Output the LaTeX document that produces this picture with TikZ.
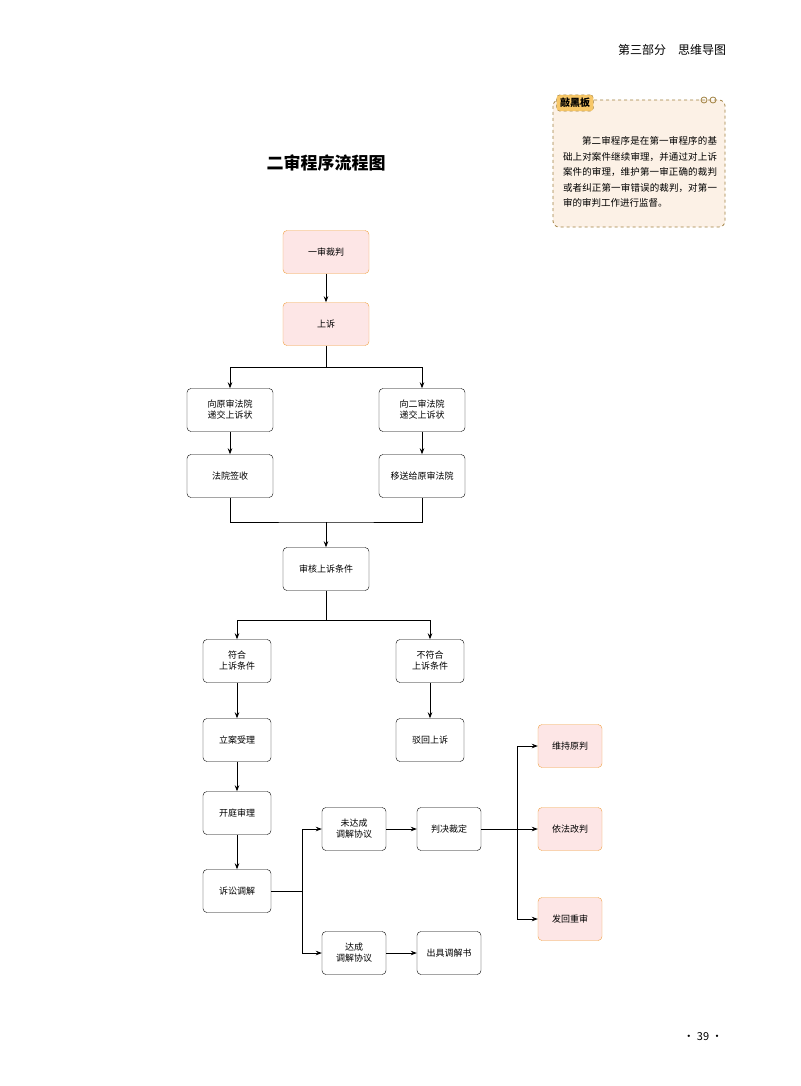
\documentclass[tikz,border=0pt]{standalone}
\usepackage{fontspec}
\newfontfamily\cjk{Noto Sans CJK SC}
\XeTeXlinebreaklocale "zh"
\XeTeXlinebreakskip = 0pt plus 1pt
\usetikzlibrary{arrows.meta, positioning}
\definecolor{pinkbg}{HTML}{FDE6E6}
\definecolor{orangeline}{HTML}{F0A040}
\definecolor{notebg}{HTML}{FCF1E6}
\definecolor{notedash}{HTML}{A08040}
\definecolor{tagbg}{HTML}{F7C768}

\begin{document}
\begin{tikzpicture}[x=1pt, y=-1pt,
  box/.style={draw=black, fill=white, rounded corners=4pt, minimum width=64pt,
              minimum height=43pt, font=\cjk\fontsize{9}{11}\selectfont, align=center},
  keybox/.style={box, draw=orangeline, fill=pinkbg},
  arr/.style={-{Stealth[length=6pt]}, thick},
  ln/.style={thick}
]
  \useasboundingbox (0,0) rectangle (800,1086);

  % Page header, title and page number
  \node[font=\cjk\fontsize{12}{14}\selectfont] (head) at (672,50) {第三部分\quad 思维导图};
  \node[font=\cjk\bfseries\fontsize{17}{20}\selectfont] (title) at (326,163) {二审程序流程图};
  \node[font=\cjk\fontsize{11}{13}\selectfont] (page) at (703,1037) {· 39 ·};

  % Note box
  \draw[notedash, dashed, thick, fill=notebg, rounded corners=6pt] (553,100) rectangle (725,227);
  \node[draw=notedash, dashed, fill=tagbg, rounded corners=3pt,
        font=\cjk\bfseries\fontsize{10}{12}\selectfont] (tag) at (575,103) {敲黑板};
  \draw[notedash, thick] (704,100) circle (3pt) (713,100) circle (3pt);
  \node[font=\cjk\fontsize{9.5}{15.5}\selectfont, align=justify, text width=154pt] (note) at (640,172)
    {\hspace*{2em}第二审程序是在第一审程序的基础上对案件继续审理，并通过对上诉案件的审理，维护第一审正确的裁判或者纠正第一审错误的裁判，对第一审的审判工作进行监督。};

  % Top chain
  \node[keybox, minimum width=86pt] (first) at (326,252) {一审裁判};
  \node[keybox, minimum width=86pt] (appeal) at (326,324) {上诉};
  \node[box, minimum width=86pt] (orig) at (230,410) {向原审法院\\递交上诉状};
  \node[box, minimum width=86pt] (second) at (422,410) {向二审法院\\递交上诉状};
  \node[box, minimum width=86pt] (sign) at (230,476) {法院签收};
  \node[box, minimum width=86pt] (send) at (422,476) {移送给原审法院};
  \node[box, minimum width=86pt] (check) at (326,569) {审核上诉条件};

  % Conditions
  \node[box, minimum width=68pt] (ok) at (237,661) {符合\\上诉条件};
  \node[box, minimum width=68pt] (notok) at (430,661) {不符合\\上诉条件};
  \node[box, minimum width=68pt] (accept) at (237,740) {立案受理};
  \node[box, minimum width=68pt] (reject) at (430,740) {驳回上诉};
  \node[box, minimum width=68pt] (trial) at (237,813) {开庭审理};
  \node[box, minimum width=68pt] (mediate) at (237,891) {诉讼调解};

  % Mediation results
  \node[box] (nodeal) at (354,829) {未达成\\调解协议};
  \node[box] (deal) at (354,953) {达成\\调解协议};
  \node[box] (judge) at (449,829) {判决裁定};
  \node[box] (paper) at (449,953) {出具调解书};
  \node[keybox] (keep) at (570,746) {维持原判};
  \node[keybox] (change) at (570,829) {依法改判};
  \node[keybox] (retry) at (570,919) {发回重审};

  \coordinate (split1) at (326,367);
  \coordinate (join1) at (326,522);
  \coordinate (split2) at (326,620);
  \coordinate (split3) at (302,891);
  \coordinate (split4) at (517,829);

  % Arrows
  \draw[arr] (first) -- (appeal);
  \draw[ln] (appeal) -- (split1);
  \draw[arr] (split1) -| (orig);
  \draw[arr] (split1) -| (second);
  \draw[arr] (orig) -- (sign);
  \draw[arr] (second) -- (send);
  \draw[ln] (sign.south) |- (join1) -| (send.south);
  \draw[arr] (join1) -- (check);
  \draw[ln] (check) -- (split2);
  \draw[arr] (split2) -| (ok);
  \draw[arr] (split2) -| (notok);
  \draw[arr] (ok) -- (accept);
  \draw[arr] (notok) -- (reject);
  \draw[arr] (accept) -- (trial);
  \draw[arr] (trial) -- (mediate);
  \draw[ln] (mediate) -- (split3);
  \draw[arr] (split3) |- (nodeal);
  \draw[arr] (split3) |- (deal);
  \draw[arr] (nodeal) -- (judge);
  \draw[arr] (deal) -- (paper);
  \draw[ln] (judge) -- (split4);
  \draw[arr] (split4) |- (keep);
  \draw[arr] (split4) -- (change);
  \draw[arr] (split4) |- (retry);
\end{tikzpicture}
\end{document}
